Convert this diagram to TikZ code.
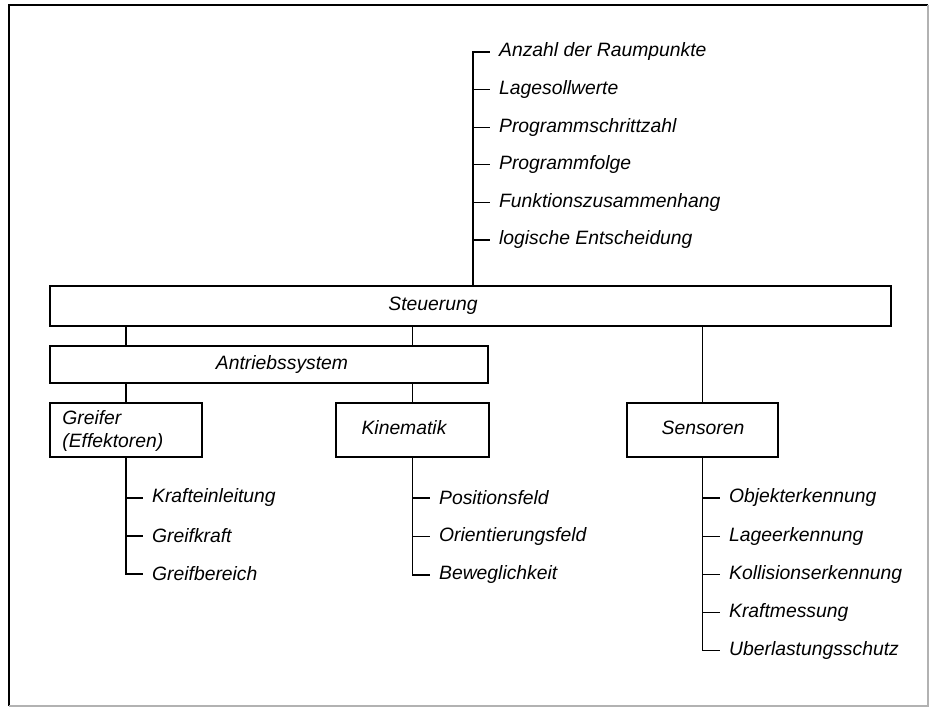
\documentclass[tikz,border=0pt]{standalone}
\usepackage{fontspec}
\setmainfont{Liberation Sans}
\usetikzlibrary{positioning,calc}

\begin{document}
\begin{tikzpicture}[x=0.02cm,y=-0.02cm,
  font=\fontsize{11}{13}\selectfont\itshape,
  box/.style={rectangle,draw,line width=1pt,inner sep=0pt},
  lbl/.style={inner sep=0pt},
  item/.style={anchor=west,inner xsep=5pt,inner ysep=1pt},
  ln/.style={line width=0.7pt}
]
  \useasboundingbox (0,0) rectangle (930,709);
  % frame
  \draw[line width=1.2pt] (9,706) -- (9,5) -- (928,5);
  \draw[gray!60,line width=0.6pt] (928,5) -- (928,706) -- (9,706);
  % boxes
  \node[box,minimum width=16.82cm,minimum height=0.8cm]  (steu)  at (470.5,306) {};
  \node[box,minimum width=8.76cm,minimum height=0.74cm]  (antr)  at (269,364.5) {};
  \node[box,minimum width=3.04cm,minimum height=1.08cm]  (greif) at (126,430) {};
  \node[box,minimum width=3.06cm,minimum height=1.08cm]  (kin)   at (412.5,430) {};
  \node[box,minimum width=3.02cm,minimum height=1.08cm]  (sens)  at (702.5,430) {};
  % box texts
  \node[lbl] at (433,306) {Steuerung};
  \node[lbl] at (282,365) {Antriebssystem};
  \node[lbl,anchor=west,align=left] at (62,431) {Greifer\\(Effektoren)};
  \node[lbl] at (404,428) {Kinematik};
  \node[lbl] at (703,428) {Sensoren};
  % links between boxes
  \draw[ln] (steu.south -| greif.north) -- (antr.north -| greif.north);
  \draw[ln] (steu.south -| kin.north) -- (antr.north -| kin.north);
  \draw[ln] (antr.south -| greif.north) -- (greif.north);
  \draw[ln] (antr.south -| kin.north) -- (kin.north);
  \draw[ln] (steu.south -| sens.north) -- (sens.north);
  % ---- Steuerung list
  \coordinate (tbus) at (473,52);
  \foreach \t [count=\i] in {Anzahl der Raumpunkte,Lagesollwerte,Programmschrittzahl,
      Programmfolge,Funktionszusammenhang,logische Entscheidung}
    \node[item] (t\i) at (490,{52+37.6*(\i-1)}) {\t};
  \draw[ln] (steu.north -| tbus) |- (t1.west);
  \foreach \i in {2,...,6} { \draw[ln] (t\i.west -| tbus) -- (t\i.west); }
  % ---- Greifer list
  \foreach \t [count=\i] in {Krafteinleitung,Greifkraft,Greifbereich}
    \node[item] (g\i) at (143,{498+38*(\i-1)}) {\t};
  \draw[ln] (greif.south) |- (g3.west);
  \foreach \i in {1,2} { \draw[ln] (g\i.west -| greif.south) -- (g\i.west); }
  % ---- Kinematik list
  \foreach \t [count=\i] in {Positionsfeld,Orientierungsfeld,Beweglichkeit}
    \node[item] (k\i) at (430,{498+38.5*(\i-1)}) {\t};
  \draw[ln] (kin.south) |- (k3.west);
  \foreach \i in {1,2} { \draw[ln] (k\i.west -| kin.south) -- (k\i.west); }
  % ---- Sensoren list
  \foreach \t [count=\i] in {Objekterkennung,Lageerkennung,Kollisionserkennung,
      Kraftmessung,Uberlastungsschutz}
    \node[item] (s\i) at (720,{498+38.2*(\i-1)}) {\t};
  \draw[ln] (sens.south) |- (s5.west);
  \foreach \i in {1,...,4} { \draw[ln] (s\i.west -| sens.south) -- (s\i.west); }
\end{tikzpicture}
\end{document}
